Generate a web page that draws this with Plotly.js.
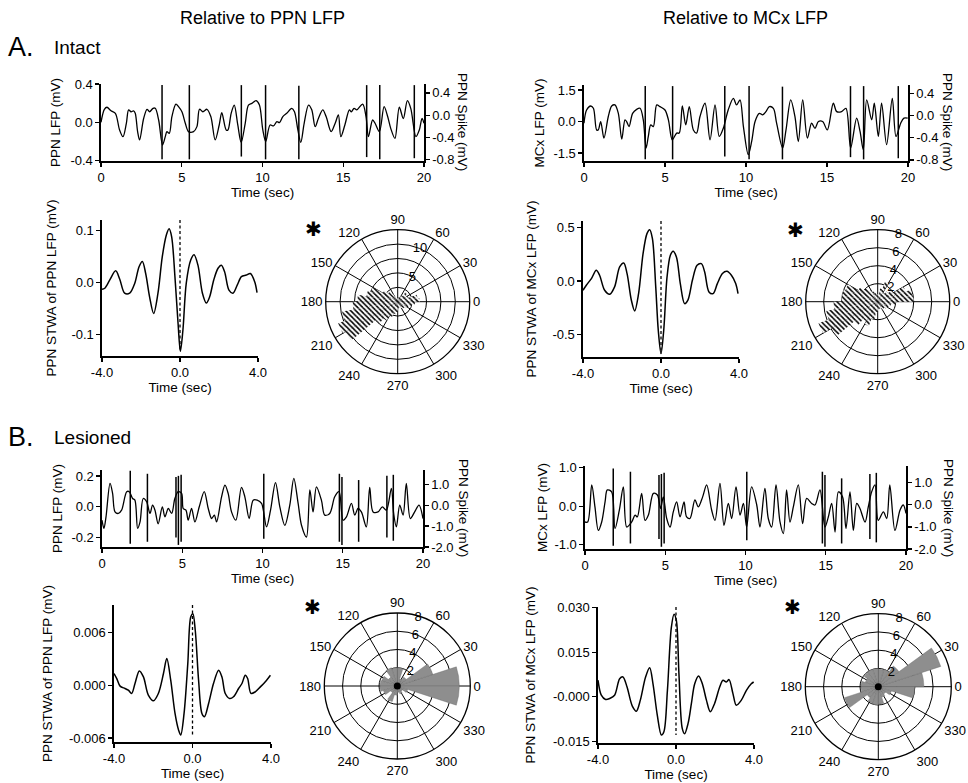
<!DOCTYPE html>
<html><head><meta charset="utf-8">
<script src="https://cdn.plot.ly/plotly-3.0.1.min.js"></script>
<style>html,body{margin:0;padding:0;background:#fff}#chart{width:968px;height:783px}</style>
</head><body><div id="chart"></div>
<script>
// ---------------- DATA ----------------
// A (intact): raw PPN LFP, 0-20 s
const aPpnT = [0,0.21,0.37,0.62,0.89,1.15,1.36,1.57,1.71,1.86,2.02,2.12,2.27,2.39,2.64,2.85,3.01,3.22,3.36,3.57,3.81,3.98,4.08,4.23,4.39,4.64,4.8,5.01,5.22,5.42,5.73,5.94,6.1,6.31,6.56,6.8,7.07,7.32,7.48,7.75,7.86,8.06,8.25,8.47,8.68,8.93,9.13,9.34,9.61,9.81,10.02,10.2,10.47,10.68,10.89,11.05,11.26,11.5,11.81,11.98,12.19,12.37,12.58,12.85,13.05,13.26,13.46,13.73,13.94,14.25,14.5,14.7,14.85,15.1,15.38,15.5,15.67,15.84,16.2,16.41,16.56,16.82,16.97,17.24,17.53,17.75,17.94,18.2,18.47,18.72,18.97,19.18,19.5,19.71,19.88,20];
const aPpnV = [0,0.136,0.157,0.12,0.094,-0.08,-0.15,-0.01,0.13,0.11,0.12,0.094,-0.10,-0.184,0.04,0.136,0.11,0.146,0.146,0.024,-0.237,-0.15,-0.097,-0.115,0.06,0.19,0.163,0.11,-0.01,-0.097,-0.097,-0.045,0.136,0.11,0.136,0.06,-0.184,-0.028,0.10,-0.08,-0.08,0.094,0.18,-0.028,-0.21,-0.01,0.18,0.198,0.226,0.18,-0.08,-0.20,-0.028,-0.038,0.007,-0.003,0.06,0.094,0.146,0.11,-0.08,-0.21,-0.01,0.18,0.13,-0.045,0.04,0.13,0.06,-0.097,-0.01,0.077,-0.15,-0.028,0.13,0.11,0.146,0.13,0.19,0.06,-0.15,0.024,-0.01,-0.097,0.163,0.06,-0.063,-0.167,0.157,0.04,0.226,0.146,-0.15,-0.08,0.04,-0.01];
// A (intact): raw MCx LFP
const aMcxT = [0,0.16,0.41,0.58,0.78,0.88,1.03,1.23,1.5,1.71,1.91,2.12,2.33,2.53,2.63,2.78,3.0,3.25,3.46,3.66,3.83,3.97,4.12,4.28,4.49,4.69,5.0,5.21,5.45,5.72,5.88,6.07,6.28,6.5,6.75,6.95,7.16,7.47,7.78,8.09,8.35,8.6,8.9,9.22,9.42,9.63,9.84,10.14,10.35,10.56,10.82,11.03,11.23,11.44,11.69,11.89,12.26,12.47,12.76,13.02,13.23,13.5,13.79,14.05,14.26,14.47,14.73,15.02,15.39,15.6,15.9,16.17,16.46,16.83,17.04,17.24,17.45,17.76,17.92,18.17,18.37,18.68,19.03,19.26,19.55,19.75,19.98];
const aMcxV = [-0.08,0.55,0.74,0.63,-0.4,-0.4,0,-0.79,0.24,0.74,0.79,0.39,-0.84,0.08,0,-0.24,0.39,0.58,0.63,0.08,-1.26,-0.71,-0.16,-0.24,0.79,0.71,0.55,0.08,-0.87,-0.55,-0.55,0.74,-0.16,0.71,-0.4,-0.55,0.24,0.87,-0.87,0.79,-0.71,-0.32,0.55,1.1,0.79,1.03,-0.24,-1.58,-0.95,0,0.39,0.32,0.47,0.71,0.63,-0.08,-1.26,-0.4,1.03,0.24,-0.95,1.03,-0.79,-0.08,-0.32,0,0,-0.4,0.87,0.47,0.47,0.63,-1.26,0.16,-0.47,-1.34,1.03,0.08,0.87,-0.71,0.87,-1.1,1.1,-0.71,-0.08,0.16,0.16];
// A: PPN spike times (s) and spike extremes (mV)
const aSpikeT  = [3.78,5.47,8.69,10.19,12.25,16.45,17.26,19.4];
const aSpikeHi = [0.54,0.54,0.54,0.54,0.53,0.54,0.54,0.54];
const aSpikeLo = [-0.79,-0.79,-0.74,-0.79,-0.79,-0.75,-0.79,-0.77];

// B (lesioned): raw PPN LFP
const bPpnT = [0,0.12,0.25,0.5,0.66,0.81,1.02,1.22,1.54,1.7,1.91,2.05,2.22,2.37,2.57,2.78,2.99,3.15,3.3,3.5,3.76,3.92,4.13,4.34,4.54,4.75,4.96,5.06,5.23,5.37,5.58,5.79,6.06,6.37,6.62,6.83,7.0,7.14,7.45,7.66,7.86,8.07,8.34,8.69,8.9,9.17,9.42,9.67,9.94,10.25,10.5,10.81,11.08,11.39,11.7,11.95,12.22,12.43,12.74,12.95,13.15,13.36,13.67,13.88,14.19,14.5,14.77,15.02,15.23,15.54,15.75,15.95,16.16,16.47,16.68,16.89,17.2,17.47,17.72,18.03,18.17,18.34,18.55,18.76,18.96,19.21,19.48,19.75,20];
const bPpnV = [-0.087,-0.14,-0.065,0.152,0.087,-0.033,-0.043,-0.022,0.098,0.098,0.054,0.043,-0.14,-0.098,0.054,0.033,-0.043,0.011,-0.022,-0.11,0,-0.065,-0.011,-0.043,0.054,0.098,0.087,-0.011,-0.022,-0.087,-0.011,-0.098,0,0.098,-0.011,-0.076,-0.054,-0.098,0.065,0.141,0.087,-0.033,-0.087,0.126,0.065,-0.076,0.043,0.043,0.022,-0.13,-0.022,0.157,0,-0.12,0.011,0.185,0.022,-0.12,-0.196,0.109,-0.033,0.13,0.043,-0.054,-0.043,0.065,0.098,-0.087,-0.065,0.022,-0.054,-0.011,-0.033,-0.13,0.126,-0.033,-0.033,0,-0.022,0.12,-0.043,-0.13,0.011,-0.054,0.152,-0.076,-0.033,0.011,-0.076];
// B: raw MCx LFP
const bMcxT = [0,0.17,0.42,0.62,0.83,1.04,1.25,1.39,1.66,1.87,2.14,2.39,2.6,2.91,3.12,3.26,3.53,3.74,3.95,4.26,4.51,4.71,4.88,5.09,5.3,5.5,5.71,5.92,6.17,6.33,6.54,6.85,7.06,7.33,7.58,7.89,8.1,8.41,8.66,8.93,9.14,9.41,9.66,9.87,10.07,10.38,10.7,10.9,11.21,11.42,11.63,11.9,12.15,12.36,12.56,12.77,12.98,13.29,13.56,13.81,14.12,14.33,14.64,14.95,15.16,15.37,15.58,15.79,16.05,16.26,16.51,16.72,16.93,17.13,17.45,17.65,17.86,18.07,18.27,18.59,18.8,18.99,19.31,19.63,19.83,20];
const bMcxV = [-0.41,-0.41,0.55,-0.02,-0.63,-0.41,0.11,0.42,0.37,-0.58,-0.1,0.5,-0.54,-0.41,-0.23,-0.28,0.33,-0.37,-0.23,0.33,0.29,-0.06,0.24,-0.32,-0.54,-0.15,0.11,-0.28,0.11,-0.28,-0.32,0.16,-0.02,0.24,0.55,-0.1,-0.37,0.59,-0.5,0.07,-0.32,0.5,-0.23,0.07,-0.54,0.5,0.03,-0.54,0.46,-0.32,-0.54,0.55,-0.41,-0.71,0.42,-0.41,-0.02,0.55,-0.45,0.2,0.07,0.03,0.42,-0.54,-0.28,0.07,-0.67,0.37,0.24,-0.58,0.37,-0.63,0.07,-0.06,-0.41,-0.02,0.37,0.55,-0.37,-0.15,-0.32,0.55,-0.63,-0.1,0.03,-0.19];
// B: PPN spike times and extremes
const bSpikeT  = [1.76,2.83,4.61,4.76,4.93,10.08,14.79,14.95,15.99,17.75,18.15];
const bSpikeHi = [1.65,1.5,1.35,1.4,1.45,1.5,1.5,1.35,1.2,1.4,1.45];
const bSpikeLo = [-1.85,-1.75,-1.55,-1.9,-1.75,-1.6,-1.75,-1.9,-1.75,-1.55,-1.7];

// Spike-triggered waveform averages (lag in s)
const aStwaPpnT = [-4,-3.86,-3.6,-3.3,-3.09,-2.84,-2.58,-2.32,-2.1,-1.93,-1.76,-1.56,-1.35,-1.13,-0.91,-0.7,-0.56,-0.43,-0.26,-0.1,0.02,0.15,0.32,0.55,0.72,0.92,1.15,1.35,1.52,1.73,1.95,2.12,2.29,2.51,2.72,2.94,3.15,3.4,3.61,3.83,3.95];
const aStwaPpnV = [-0.0135,-0.0115,0.0045,0.022,0.006,-0.021,-0.021,-0.002,0.03,0.04,0.017,-0.028,-0.06,-0.021,0.049,0.091,0.103,0.088,0.011,-0.079,-0.133,-0.092,-0.002,0.043,0.053,0.033,-0.021,-0.04,-0.028,0.0045,0.027,0.033,0.02,-0.015,-0.021,-0.005,0.011,0.014,0.017,0.001,-0.02];
const aStwaMcxT = [-4,-3.83,-3.57,-3.32,-3.15,-2.89,-2.63,-2.38,-2.12,-1.91,-1.74,-1.52,-1.35,-1.15,-0.92,-0.72,-0.58,-0.44,-0.27,-0.14,0,0.14,0.31,0.48,0.62,0.79,0.99,1.21,1.38,1.61,1.85,2.07,2.24,2.46,2.67,2.89,3.15,3.38,3.61,3.83,3.95];
const aStwaMcxV = [-0.0875,-0.04,0.022,0.1,0.053,-0.0875,-0.125,-0.056,0.131,0.169,0.069,-0.181,-0.281,-0.119,0.256,0.444,0.481,0.397,-0.056,-0.4625,-0.681,-0.4625,0.0375,0.24,0.278,0.225,-0.025,-0.2125,-0.18,0.006,0.147,0.1625,0.084,-0.103,-0.119,-0.025,0.069,0.09,0.053,-0.025,-0.119];
const bStwaPpnT = [-4,-3.86,-3.69,-3.44,-3.27,-3.1,-2.93,-2.71,-2.5,-2.25,-1.99,-1.74,-1.48,-1.31,-1.11,-0.89,-0.71,-0.6,-0.43,-0.24,-0.09,0.02,0.14,0.31,0.48,0.61,0.82,1.07,1.33,1.5,1.67,1.89,2.09,2.35,2.52,2.69,2.81,2.98,3.2,3.46,3.71,3.97];
const bStwaPpnV = [0.00132,0.00075,-0.00011,-0.00038,-0.00057,-0.00094,0.00019,0.00162,0.00094,-0.00113,-0.00177,-0.00094,0.00132,0.00302,0.00057,-0.00321,-0.0051,-0.00566,-0.00321,0.00245,0.00774,0.00811,0.00623,0.00057,-0.00321,-0.00358,-0.00208,0.00019,0.0017,0.00094,-0.00094,-0.00151,-0.00132,-0.00038,0.00019,0.00113,0.00075,-0.00094,-0.00075,-0.00019,0.00038,0.00113];
const bStwaMcxT = [-4,-3.83,-3.61,-3.4,-3.15,-2.89,-2.72,-2.51,-2.24,-2.03,-1.83,-1.56,-1.35,-1.18,-0.96,-0.75,-0.62,-0.44,-0.24,-0.1,0.02,0.15,0.32,0.44,0.62,0.79,0.96,1.16,1.35,1.56,1.76,1.98,2.24,2.41,2.58,2.72,2.92,3.09,3.35,3.61,3.86,3.98];
const bStwaMcxV = [0.0056,0.00056,-0.00089,-0.00056,0.00056,0.0061,0.0067,0.0033,-0.0031,-0.0048,-0.0011,0.0067,0.0098,0.0044,-0.0061,-0.0128,-0.0117,0.0022,0.0233,0.0278,0.0256,0.0078,-0.0106,-0.0124,-0.0089,-0.0022,0.0044,0.007,0.0044,-0.0011,-0.005,-0.0022,0.0033,0.0056,0.005,0.0058,0.0011,-0.0028,-0.0011,0.0022,0.0044,0.005];

// Phase histograms (rose plots)
const aBinCenters = [5,15,25,35,45,55,65,75,85,95,105,115,125,135,145,155,165,175,185,195,205,215,225,235,245,255,265,275,285,295,305,315,325,335,345,355];
const aRosePpn = [3.8,3.5,2.0,1.8,2.2,1.2,1.0,0.8,0.6,0.6,0.8,1.0,1.5,2.2,3.0,5.0,5.5,7.0,7.8,9.8,11.0,10.5,5.0,3.8,2.8,2.2,1.8,1.2,1.0,1.2,1.3,1.5,1.8,2.0,2.5,3.0];
const aRoseMcx = [4.0,3.9,3.3,2.0,1.5,1.2,2.4,1.5,0.8,0.8,1.0,1.2,1.5,2.0,2.5,3.8,4.0,4.0,4.9,5.8,7.0,5.9,3.4,2.5,2.9,2.0,1.2,1.0,0.8,0.8,1.0,1.0,1.2,1.3,1.5,2.0];
const bBinCenters = [9,27,45,63,81,99,117,135,153,171,189,207,225,243,261,279,297,315,333,351];
const bRosePpn = [6.8,4.1,1.2,0.8,2.0,2.0,2.1,1.2,1.8,1.9,1.9,1.6,0.9,1.8,1.0,0.7,0.9,0.7,1.2,6.8];
const bRoseMcx = [5.0,7.2,2.8,2.0,1.9,2.0,2.0,1.9,1.5,1.9,1.9,3.9,1.5,1.9,2.0,1.9,1.2,1.0,1.5,4.0];

// Tick labels
const timeTicks = [0,5,10,15,20];
const lagTicks = [-4,0,4], lagLabels = ['-4.0','0.0','4.0'];
const angTicks = [0,30,60,90,120,150,180,210,240,270,300,330];
const angLabels = ['0','30','60','90','120','150','180','210','240','270','300','330'];

// ---------------- LAYOUT HELPERS ----------------
const W = 968, H = 783;
const fx = (a, b) => [a / W, b / W];
const fy = (top, bot) => [1 - bot / H, 1 - top / H];
const FONT = 'Liberation Sans, Arial, Helvetica, sans-serif';

function ax(extra) {
  return Object.assign({
    showline: true, linecolor: 'black', linewidth: 1.6, ticks: 'outside', ticklen: 4,
    tickwidth: 1.2, tickcolor: 'black', showgrid: false, zeroline: false,
    tickfont: {size: 13, color: 'black'}, fixedrange: true
  }, extra);
}
function ttl(t, so) { return {text: t, standoff: so, font: {size: 13.5, color: 'black'}}; }
function spikes(times, lo, hi) {
  const x = [], y = [];
  times.forEach((t, i) => { x.push(t, t, null); y.push(lo[i], hi[i], null); });
  return {x, y};
}
const lineTr = (x, y, xa, ya, w) => ({type: 'scatter', mode: 'lines', x, y, xaxis: xa, yaxis: ya,
  line: {color: 'black', width: w || 1.3, shape: 'spline', smoothing: 0.9}, hoverinfo: 'skip'});
const spikeTr = (s, xa, ya) => ({type: 'scatter', mode: 'lines', x: s.x, y: s.y, xaxis: xa, yaxis: ya,
  line: {color: 'black', width: 1.5}, connectgaps: false, hoverinfo: 'skip'});

// axis ranges
const rA1 = [-0.404, 0.40], rA2 = [-1.88, 1.74], rSpA = [-0.82, 0.56];
const rB1 = [-0.261, 0.239], rB2 = [-1.11, 1.04], rSpB1 = [-2.0, 1.68], rSpB2 = [-2.0, 1.76];
const rS1 = [-0.142, 0.12], rS2 = [-0.713, 0.562], rS3 = [-0.00645, 0.0091], rS4 = [-0.0155, 0.0302];

function dashTr(range, vals, xa, ya) {
  return {type: 'scatter', mode: 'lines', x: [0, 0], y: [range[1], Math.min.apply(null, vals)],
    xaxis: xa, yaxis: ya, line: {color: 'black', width: 1.3, dash: '3px,2.5px'}, hoverinfo: 'skip'};
}

const hatch = {color: 'white', line: {width: 0},
  pattern: {shape: '\\', fgcolor: 'black', bgcolor: 'white', size: 3.6, solidity: 0.45}};
const grayFill = {color: '#8e8e8e', line: {width: 0.4, color: '#6a6a6a'}};

const traces = [
  lineTr(aPpnT, aPpnV, 'x', 'y'),
  spikeTr(spikes(aSpikeT, aSpikeLo, aSpikeHi), 'x', 'y2'),
  lineTr(aMcxT, aMcxV, 'x2', 'y3'),
  spikeTr(spikes(aSpikeT, aSpikeLo, aSpikeHi), 'x2', 'y4'),
  lineTr(aStwaPpnT, aStwaPpnV, 'x3', 'y5', 1.5),
  dashTr(rS1, aStwaPpnV, 'x3', 'y5'),
  lineTr(aStwaMcxT, aStwaMcxV, 'x4', 'y6', 1.5),
  dashTr(rS2, aStwaMcxV, 'x4', 'y6'),
  lineTr(bPpnT, bPpnV, 'x5', 'y7'),
  spikeTr(spikes(bSpikeT, bSpikeLo, bSpikeHi), 'x5', 'y8'),
  lineTr(bMcxT, bMcxV, 'x6', 'y9'),
  spikeTr(spikes(bSpikeT, bSpikeLo, bSpikeHi), 'x6', 'y10'),
  lineTr(bStwaPpnT, bStwaPpnV, 'x7', 'y11', 1.5),
  dashTr(rS3, bStwaPpnV, 'x7', 'y11'),
  lineTr(bStwaMcxT, bStwaMcxV, 'x8', 'y12', 1.5),
  dashTr(rS4, bStwaMcxV, 'x8', 'y12'),
  {type: 'barpolar', r: aRosePpn, theta: aBinCenters, width: 10, subplot: 'polar', marker: hatch, hoverinfo: 'skip'},
  {type: 'barpolar', r: aRoseMcx, theta: aBinCenters, width: 10, subplot: 'polar2', marker: hatch, hoverinfo: 'skip'},
  {type: 'barpolar', r: bRosePpn, theta: bBinCenters, width: 18, subplot: 'polar3', marker: grayFill, hoverinfo: 'skip'},
  {type: 'barpolar', r: bRoseMcx, theta: bBinCenters, width: 18, subplot: 'polar4', marker: grayFill, hoverinfo: 'skip'},
  {type: 'scatterpolar', mode: 'markers', r: [0], theta: [0], subplot: 'polar3', marker: {color: 'black', size: 7}, hoverinfo: 'skip'},
  {type: 'scatterpolar', mode: 'markers', r: [0], theta: [0], subplot: 'polar4', marker: {color: 'black', size: 7}, hoverinfo: 'skip'}
];

function polar(dx, dy, rmax, rvals, rtext) {
  return {
    domain: {x: dx, y: dy}, bgcolor: 'white',
    angularaxis: {direction: 'counterclockwise', rotation: 0, tickmode: 'array', tickvals: angTicks, ticktext: angLabels,
      showgrid: true, gridcolor: 'black', gridwidth: 1, showline: true, linecolor: 'black', linewidth: 1.3,
      ticks: '', tickfont: {size: 13, color: 'black'}},
    radialaxis: {range: [0, rmax], tickmode: 'array', tickvals: rvals, ticktext: rtext, showline: false,
      showgrid: true, gridcolor: 'black', gridwidth: 1, ticks: '', angle: 82, tickangle: 82,
      tickfont: {size: 13, color: 'black'}}
  };
}

const ringA = [2.5, 5, 7.5, 10, 12.5], ringAtext = ['', '5', '', '10', ''];
const ringB = [2, 4, 6, 8], ringBtext = ['2', '4', '6', '8'];

const layout = {
  width: W, height: H, margin: {l: 0, r: 0, t: 0, b: 0}, paper_bgcolor: 'white', plot_bgcolor: 'white',
  showlegend: false, font: {family: FONT, color: 'black', size: 13},
  // A row traces
  xaxis: ax({domain: fx(101, 424), range: [0, 20], tickvals: timeTicks, anchor: 'y', title: ttl('Time (sec)', 0)}),
  yaxis: ax({domain: fy(84, 161), range: rA1, tickvals: [-0.4, 0, 0.4], ticktext: ['-0.4', '0.0', '0.4'], anchor: 'x', title: ttl('PPN LFP (mV)', 6)}),
  yaxis2: ax({overlaying: 'y', side: 'right', anchor: 'x', range: rSpA, tickvals: [-0.8, -0.4, 0, 0.4], ticktext: ['-0.8', '-0.4', '0.0', '0.4']}),
  xaxis2: ax({domain: fx(584, 908), range: [0, 20], tickvals: timeTicks, anchor: 'y3', title: ttl('Time (sec)', 0)}),
  yaxis3: ax({domain: fy(85, 161), range: rA2, tickvals: [-1.5, 0, 1.5], ticktext: ['-1.5', '0.0', '1.5'], anchor: 'x2', title: ttl('MCx LFP (mV)', 5)}),
  yaxis4: ax({overlaying: 'y3', side: 'right', anchor: 'x2', range: rSpA, tickvals: [-0.8, -0.4, 0, 0.4], ticktext: ['-0.8', '-0.4', '0.0', '0.4']}),
  // A row STWA
  xaxis3: ax({domain: fx(102, 258), range: [-4, 4], tickvals: lagTicks, ticktext: lagLabels, anchor: 'y5', title: ttl('Time (sec)', 0)}),
  yaxis5: ax({domain: fy(220, 356), range: rS1, tickvals: [-0.1, 0, 0.1], ticktext: ['-0.1', '0.0', '0.1'], anchor: 'x3', title: ttl('PPN STWA of PPN LFP (mV)', 11)}),
  xaxis4: ax({domain: fx(583, 739), range: [-4, 4], tickvals: lagTicks, ticktext: lagLabels, anchor: 'y6', title: ttl('Time (sec)', 0)}),
  yaxis6: ax({domain: fy(221, 357), range: rS2, tickvals: [-0.5, 0, 0.5], ticktext: ['-0.5', '0.0', '0.5'], anchor: 'x4', title: ttl('PPN STWA of MCx LFP (mV)', 12)}),
  // B row traces
  xaxis5: ax({domain: fx(102, 423), range: [0, 20], tickvals: timeTicks, anchor: 'y7', title: ttl('Time (sec)', 0)}),
  yaxis7: ax({domain: fy(470, 547), range: rB1, tickvals: [-0.2, 0, 0.2], ticktext: ['-0.2', '0.0', '0.2'], anchor: 'x5', title: ttl('PPN LFP (mV)', 5)}),
  yaxis8: ax({overlaying: 'y7', side: 'right', anchor: 'x5', range: rSpB1, tickvals: [-2, -1, 0, 1], ticktext: ['-2.0', '-1.0', '0.0', '1.0']}),
  xaxis6: ax({domain: fx(585, 906), range: [0, 20], tickvals: timeTicks, anchor: 'y9', title: ttl('Time (sec)', 0)}),
  yaxis9: ax({domain: fy(466, 549), range: rB2, tickvals: [-1, 0, 1], ticktext: ['-1.0', '0.0', '1.0'], anchor: 'x6', title: ttl('MCx LFP (mV)', 3)}),
  yaxis10: ax({overlaying: 'y9', side: 'right', anchor: 'x6', range: rSpB2, tickvals: [-2, -1, 0, 1], ticktext: ['-2.0', '-1.0', '0.0', '1.0']}),
  // B row STWA
  xaxis7: ax({domain: fx(114, 271), range: [-4, 4], tickvals: lagTicks, ticktext: lagLabels, anchor: 'y11', title: ttl('Time (sec)', 0)}),
  yaxis11: ax({domain: fy(605, 742), range: rS3, tickvals: [-0.006, 0, 0.006], ticktext: ['-0.006', '0.000', '0.006'], anchor: 'x7', title: ttl('PPN STWA of PPN LFP (mV)', 13)}),
  xaxis8: ax({domain: fx(598, 754), range: [-4, 4], tickvals: lagTicks, ticktext: lagLabels, anchor: 'y12', title: ttl('Time (sec)', 0)}),
  yaxis12: ax({domain: fy(607, 743), range: rS4, tickvals: [-0.015, 0, 0.015, 0.03], ticktext: ['-0.015', '-0.000', '0.015', '0.030'], anchor: 'x8', title: ttl('PPN STWA of MCx LFP (mV)', 14)}),
  polar: polar(fx(325.7, 469.7), fy(229.7, 373.7), 12.5, ringA, ringAtext),
  polar2: polar(fx(805.7, 949.7), fy(229.7, 373.7), 8, ringB, ringBtext),
  polar3: polar(fx(324.3, 470.3), fy(613, 759), 8, ringB, ringBtext),
  polar4: polar(fx(805.3, 951.3), fy(613.7, 759.7), 8, ringB, ringBtext),
  annotations: []
};

function note(text, x, y, size, opts) {
  layout.annotations.push(Object.assign({text, x: x / W, y: 1 - y / H, xref: 'paper', yref: 'paper',
    showarrow: false, xanchor: 'center', yanchor: 'middle', font: {size, color: 'black', family: FONT}}, opts || {}));
}
note('Relative to PPN LFP', 262, 18, 18);
note('Relative to MCx LFP', 745, 18, 18);
note('A.', 6, 47, 27, {xanchor: 'left'});
note('Intact', 52, 48, 19, {xanchor: 'left'});
note('B.', 6, 437, 27, {xanchor: 'left'});
note('Lesioned', 52, 438, 19, {xanchor: 'left'});
note('PPN Spike (mV)', 463, 122, 13.5, {textangle: 90});
note('PPN Spike (mV)', 948, 122, 13.5, {textangle: 90});
note('PPN Spike (mV)', 463, 508, 13.5, {textangle: 90});
note('PPN Spike (mV)', 948, 508, 13.5, {textangle: 90});
const starFont = {family: 'DejaVu Sans', size: 20, color: 'black'};
note('✱', 313, 229, 20, {font: starFont});
note('✱', 795, 230, 20, {font: starFont});
note('✱', 312, 607, 20, {font: starFont});
note('✱', 792, 607, 20, {font: starFont});

Plotly.newPlot('chart', traces, layout, {staticPlot: true, displayModeBar: false});
</script>
</body></html>
